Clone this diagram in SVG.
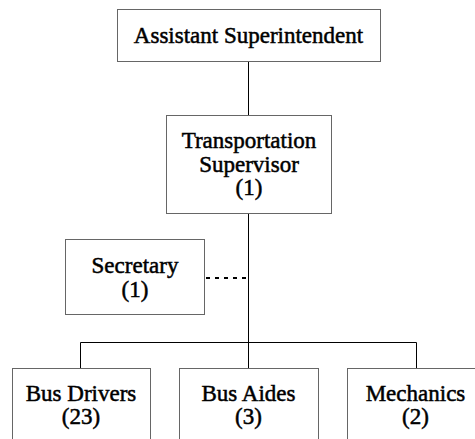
<svg xmlns="http://www.w3.org/2000/svg" width="475" height="439" viewBox="0 0 475 439">
<style>
.box{fill:#fff;stroke:#666;stroke-width:1}
.t{font-family:"Liberation Serif","Times New Roman",serif;font-size:23px;font-weight:normal;fill:#000;stroke:#000;stroke-width:0.5;text-anchor:middle}
.c{stroke:#000;stroke-width:1;fill:none}
.d{stroke:#000;stroke-width:2;stroke-dasharray:4 5;fill:none}
</style>
<rect width="475" height="439" fill="#fff"/>
<g id="connectors">
<line class="c" x1="248.5" y1="62" x2="248.5" y2="115"/>
<line class="c" x1="248.5" y1="213" x2="248.5" y2="368"/>
<polyline class="c" points="80.5,368 80.5,342.5 416.5,342.5 416.5,368"/>
<line class="d" x1="206" y1="278" x2="248" y2="278"/>
</g>
<g id="assistant-superintendent">
<rect class="box" x="117.5" y="9.5" width="263" height="52"/>
<text class="t" x="248.5" y="43">Assistant Superintendent</text>
</g>
<g id="transportation-supervisor">
<rect class="box" x="166.5" y="115.5" width="165" height="98"/>
<text class="t" x="249" y="148">Transportation</text>
<text class="t" x="249" y="172">Supervisor</text>
<text class="t" x="249" y="195">(1)</text>
</g>
<g id="secretary">
<rect class="box" x="65.5" y="239.5" width="139" height="75"/>
<text class="t" x="135" y="273">Secretary</text>
<text class="t" x="135" y="297">(1)</text>
</g>
<g id="bus-drivers">
<rect class="box" x="12.5" y="368.5" width="138" height="80"/>
<text class="t" x="81" y="401">Bus Drivers</text>
<text class="t" x="81" y="424">(23)</text>
</g>
<g id="bus-aides">
<rect class="box" x="179.5" y="368.5" width="139" height="80"/>
<text class="t" x="248.5" y="401">Bus Aides</text>
<text class="t" x="248.5" y="424">(3)</text>
</g>
<g id="mechanics">
<rect class="box" x="347.5" y="368.5" width="140" height="80"/>
<text class="t" x="415.5" y="401">Mechanics</text>
<text class="t" x="415.5" y="424">(2)</text>
</g>
</svg>
